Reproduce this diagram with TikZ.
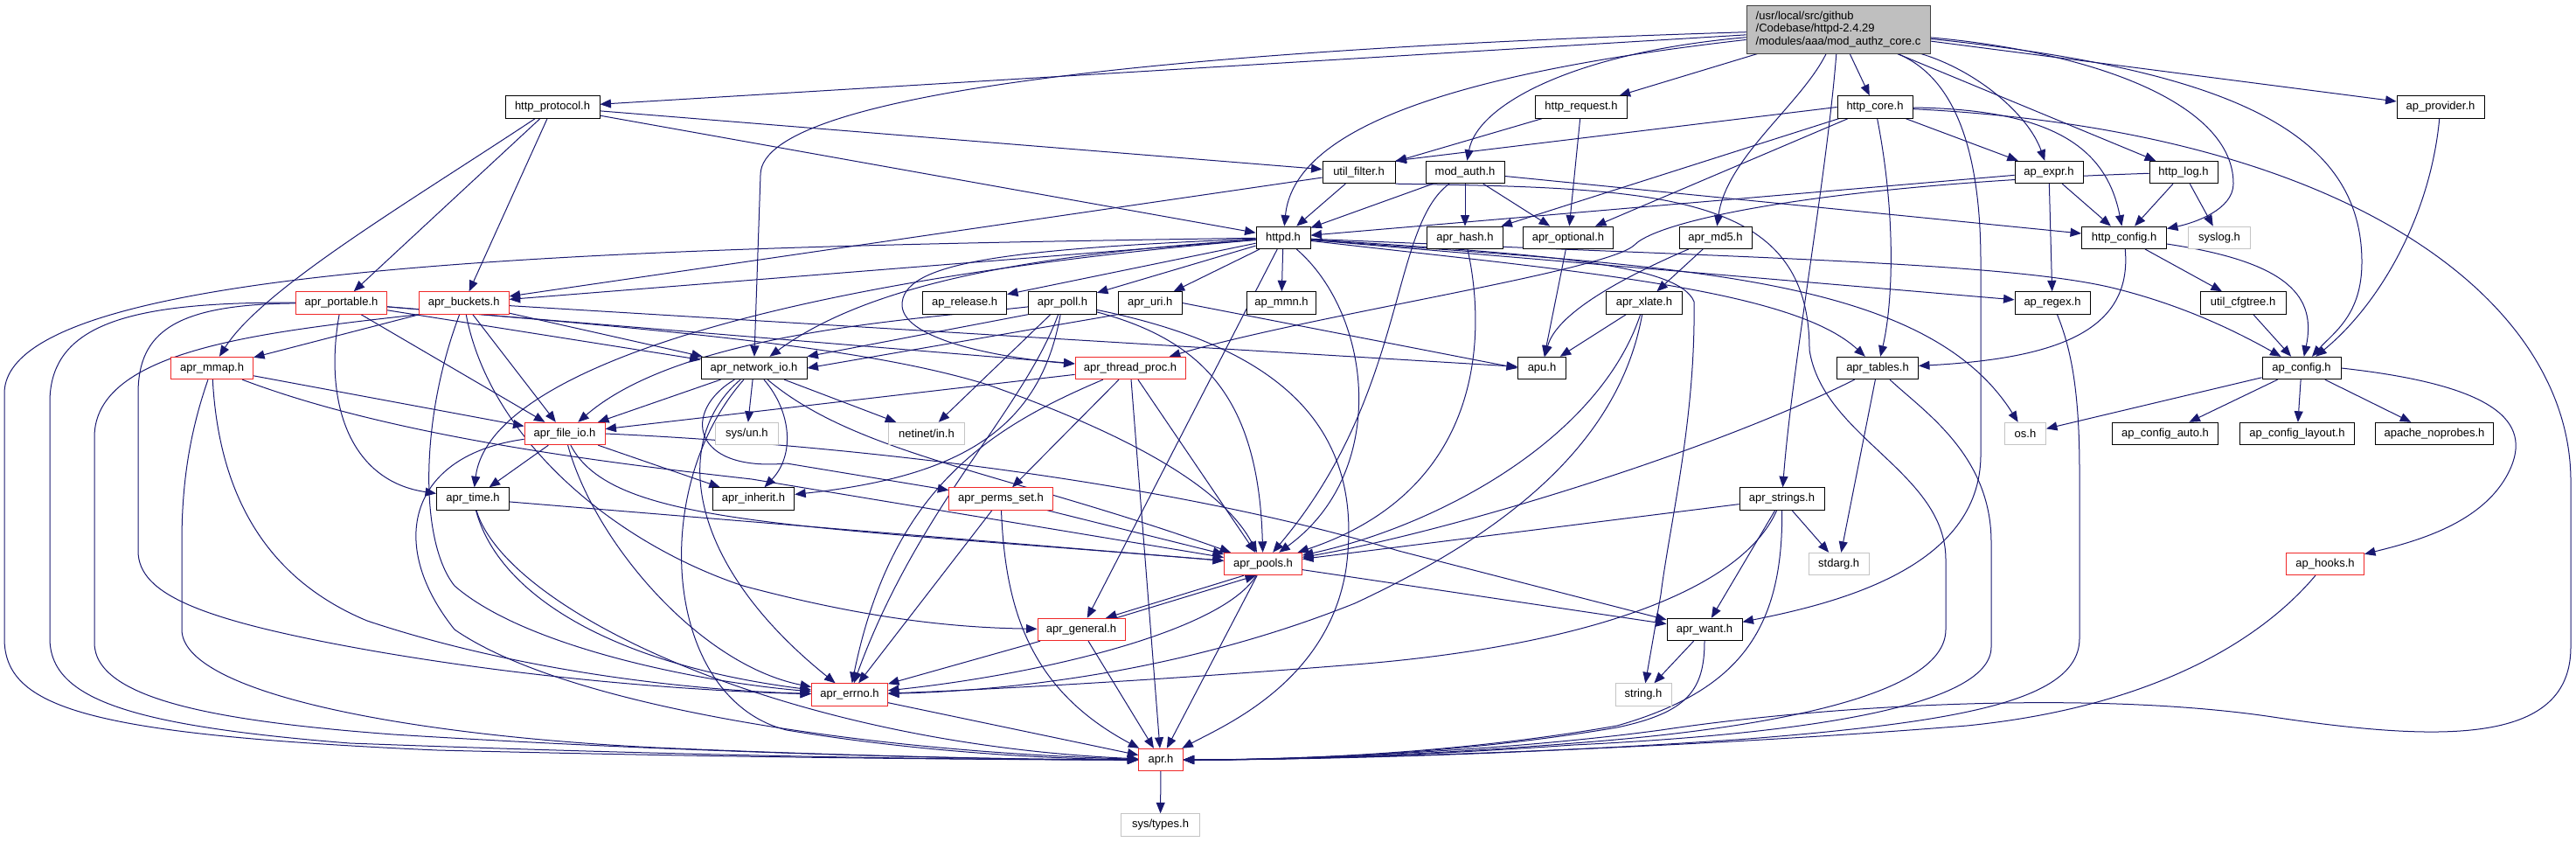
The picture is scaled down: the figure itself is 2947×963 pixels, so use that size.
\documentclass[tikz,border=0pt]{standalone}
\usepackage{fontspec}
\setmainfont{Liberation Sans}
\usetikzlibrary{arrows.meta}
\definecolor{edgec}{HTML}{191970}
\definecolor{nred}{HTML}{F02828}
\definecolor{ngray}{HTML}{C4C4C4}
\definecolor{rootfill}{HTML}{BFBFBF}
\pgfdeclarelayer{bg}
\pgfsetlayers{bg,main}
\tikzset{
  nd/.style={draw=black, line width=0.9pt, fill=white, rectangle, minimum height=25.5pt, inner sep=0pt, font=\fontsize{13}{15}\selectfont, text=black},
  nr/.style={nd, draw=nred},
  ng/.style={nd, draw=ngray},
  rootnode/.style={nd, fill=rootfill, draw=black!75, minimum height=55pt, align=left, font=\fontsize{13}{14.5}\selectfont},
  e/.style={draw=edgec, line width=1pt, -{Triangle[length=12.5pt,width=10pt]}},
}
\begin{document}
\begin{tikzpicture}[x=1pt,y=-1pt]
\useasboundingbox (0,0) rectangle (2947,963);
% nodes
\node[rootnode, minimum width=210pt] (R) at (2103,33.5) {/usr/local/src/github\\/Codebase/httpd-2.4.29\\/modules/aaa/mod\_authz\_core.c};
\node[nd, minimum width=108pt] (HP) at (632,122.5) {http\_protocol.h};
\node[nd, minimum width=105pt] (HR) at (1809,122.5) {http\_request.h};
\node[nd, minimum width=86pt] (HC) at (2145,122.5) {http\_core.h};
\node[nd, minimum width=100pt] (AP) at (2792,122.5) {ap\_provider.h};
\node[nd, minimum width=83pt] (UF) at (1554.5,197) {util\_filter.h};
\node[nd, minimum width=90pt] (MA) at (1676,197) {mod\_auth.h};
\node[nd, minimum width=78pt] (AE) at (2344,197) {ap\_expr.h};
\node[nd, minimum width=78pt] (HL) at (2498,197) {http\_log.h};
\node[nd, minimum width=62pt] (H) at (1468,271.8) {httpd.h};
\node[nd, minimum width=87pt] (AH) at (1676,271.8) {apr\_hash.h};
\node[nd, minimum width=103pt] (AO) at (1794,271.8) {apr\_optional.h};
\node[nd, minimum width=83pt] (MD5) at (1962.5,271.8) {apr\_md5.h};
\node[nd, minimum width=97pt] (HCF) at (2430,271.8) {http\_config.h};
\node[ng, minimum width=71pt] (SYS) at (2539,271.8) {syslog.h};
\node[nr, minimum width=104pt] (PT) at (390.5,346.5) {apr\_portable.h};
\node[nr, minimum width=103pt] (B) at (530.7,346.5) {apr\_buckets.h};
\node[nd, minimum width=96pt] (REL) at (1103.6,346.5) {ap\_release.h};
\node[nd, minimum width=78pt] (P) at (1215.5,346.5) {apr\_poll.h};
\node[nd, minimum width=73pt] (URI) at (1315.7,346.5) {apr\_uri.h};
\node[nd, minimum width=79pt] (MMN) at (1466,346.5) {ap\_mmn.h};
\node[nd, minimum width=87pt] (X) at (1881,346.5) {apr\_xlate.h};
\node[nd, minimum width=86pt] (RX) at (2348,346.5) {ap\_regex.h};
\node[nd, minimum width=98pt] (CFG) at (2566,346.5) {util\_cfgtree.h};
\node[nr, minimum width=94pt] (MM) at (242.6,421) {apr\_mmap.h};
\node[nd, minimum width=121pt] (NIO) at (862.5,421) {apr\_network\_io.h};
\node[nr, minimum width=126pt] (TP) at (1293,421) {apr\_thread\_proc.h};
\node[nd, minimum width=55pt] (APU) at (1764,421) {apu.h};
\node[nd, minimum width=93pt] (TB) at (2148,421) {apr\_tables.h};
\node[nd, minimum width=90pt] (C) at (2633,421) {ap\_config.h};
\node[nr, minimum width=92pt] (FIO) at (646,496) {apr\_file\_io.h};
\node[ng, minimum width=72pt] (SUN) at (854.4,496) {sys/un.h};
\node[ng, minimum width=86.5pt] (NET) at (1060,496) {netinet/in.h};
\node[ng, minimum width=47pt] (OS) at (2317,496) {os.h};
\node[nd, minimum width=121pt] (CAUTO) at (2477,496) {ap\_config\_auto.h};
\node[nd, minimum width=131pt] (CLAY) at (2628,496) {ap\_config\_layout.h};
\node[nd, minimum width=135pt] (NOPR) at (2785,496) {apache\_noprobes.h};
\node[nd, minimum width=83pt] (T) at (541,570.5) {apr\_time.h};
\node[nd, minimum width=93.5pt] (INH) at (862,570.5) {apr\_inherit.h};
\node[nr, minimum width=118.5pt] (PS) at (1145,570.5) {apr\_perms\_set.h};
\node[nd, minimum width=97pt] (S) at (2038.5,570.5) {apr\_strings.h};
\node[nr, minimum width=89pt] (PO) at (1445,645) {apr\_pools.h};
\node[ng, minimum width=68.5pt] (STD) at (2103.7,645) {stdarg.h};
\node[nr, minimum width=89pt] (HK) at (2660,645) {ap\_hooks.h};
\node[nr, minimum width=100pt] (G) at (1237,720) {apr\_general.h};
\node[nd, minimum width=86pt] (W) at (1950,720) {apr\_want.h};
\node[nr, minimum width=87pt] (E) at (972,794.5) {apr\_errno.h};
\node[ng, minimum width=64pt] (STR) at (1880,794.5) {string.h};
\node[nr, minimum width=50.5pt] (A) at (1328,869) {apr.h};
\node[ng, minimum width=90pt] (ST) at (1327.5,943.5) {sys/types.h};

\begin{pgfonlayer}{bg}
% root
\draw[e] (R) -- (HP);
\draw[e] (R) .. controls (1400,55) and (870,100) .. (870,200) -- (NIO);
\draw[e] (R) .. controls (1650,85) and (1480,150) .. (H);
\draw[e] (R) .. controls (1800,60) and (1690,120) .. (MA);
\draw[e] (R) -- (HR);
\draw[e] (R) .. controls (2060,120) and (1975,180) .. (MD5);
\draw[e] (R) .. controls (2090,200) and (2050,420) .. (S);
\draw[e] (R) -- (HC);
\draw[e] (R) .. controls (2240,90) and (2266,180) .. (2266,300) -- (2266,520) .. controls (2266,650) and (2100,690) .. (W);
\draw[e] (R) .. controls (2260,80) and (2320,130) .. (AE);
\draw[e] (R) -- (HL);
\draw[e] (R) .. controls (2400,60) and (2555,120) .. (2555,210) .. controls (2555,240) and (2510,255) .. (HCF);
\draw[e] (R) .. controls (2550,80) and (2702,150) .. (2702,300) .. controls (2702,360) and (2670,380) .. (C);
\draw[e] (R) -- (AP);
% http_protocol
\draw[e] (HP) -- (H);
\draw[e] (HP) -- (UF);
\draw[e] (HP) -- (PT);
\draw[e] (HP) .. controls (470,230) and (300,330) .. (MM);
\draw[e] (HP) -- (B);
% http_request
\draw[e] (HR) -- (UF);
\draw[e] (HR) -- (AO);
% http_core
\draw[e] (HC.west) -- (UF.north east);
\draw[e] (HC) -- (AH);
\draw[e] (HC) -- (AO);
\draw[e] (HC) .. controls (2170,250) and (2165,350) .. (TB);
\draw[e] (HC) -- (AE);
\draw[e] (HC) .. controls (2350,125) and (2410,170) .. (HCF);
\draw[e] (HC) .. controls (2700,150) and (2941,350) .. (2941,550) -- (2941,740) .. controls (2941,850) and (2800,850) .. (2600,820) .. controls (2400,790) and (2100,805) .. (1900,835) .. controls (1700,862) and (1450,869) .. (A);
% ap_provider
\draw[e] (AP) .. controls (2780,250) and (2720,350) .. (C);
% util_filter
\draw[e] (UF) -- (H);
\draw[e] (UF) -- (B);
\draw[e] (UF.south east) .. controls (1900,215) and (2070,220) .. (2070,400) .. controls (2085,500) and (2226,540) .. (2226,640) -- (2226,720) .. controls (2226,800) and (2000,835) .. (1800,850) .. controls (1600,866) and (1450,869) .. (A);
% mod_auth
\draw[e] (MA) -- (H);
\draw[e] (MA) -- (AH);
\draw[e] (MA) -- (AO);
\draw[e] (MA) .. controls (1590,260) and (1610,450) .. (PO);
\draw[e] (MA) -- (HCF);
% ap_expr
\draw[e] (AE) -- (H);
\draw[e] (AE) -- (HCF);
\draw[e] (AE) -- (RX);
% http_log
\draw[e] (HL) -- (HCF);
\draw[e] (HL) -- (SYS);
\draw[e] (HL) .. controls (2100,210) and (1900,250) .. (1870,280) .. controls (1840,310) and (1500,360) .. (TP);
% httpd
\draw[e] (H) .. controls (700,283) and (5,300) .. (5,450) -- (5,730) .. controls (5,810) and (100,840) .. (500,858) .. controls (900,868) and (1200,869) .. (A);
\draw[e] (H) -- (B);
\draw[e] (H) .. controls (1200,290) and (1000,320) .. (NIO);
\draw[e] (H) .. controls (900,320) and (560,420) .. (T);
\draw[e] (H) .. controls (1150,285) and (1030,300) .. (1032,350) .. controls (1035,390) and (1150,410) .. (TP);
\draw[e] (H) -- (REL);
\draw[e] (H) -- (P);
\draw[e] (H) -- (URI);
\draw[e] (H) -- (MMN);
\draw[e] (H) -- (G);
\draw[e] (H) .. controls (1570,360) and (1590,540) .. (PO);
\draw[e] (H) .. controls (1800,310) and (2050,330) .. (TB);
\draw[e] (H) .. controls (1750,290) and (1920,300) .. (1938,345) .. controls (1940,480) and (1910,600) .. (1900,680) -- (STR);
\draw[e] (H) .. controls (1900,305) and (2200,310) .. (OS);
\draw[e] (H) -- (RX);
\draw[e] (H) .. controls (2000,295) and (2300,300) .. (2420,330) .. controls (2500,350) and (2560,380) .. (C);
% hash, optional, md5, xlate, uri
\draw[e] (AH) .. controls (1700,380) and (1700,560) .. (PO);
\draw[e] (AO) -- (APU);
\draw[e] (MD5) .. controls (1850,320) and (1780,360) .. (APU);
\draw[e] (MD5) -- (X);
\draw[e] (X) -- (APU);
\draw[e] (X) .. controls (1830,500) and (1650,600) .. (PO);
\draw[e] (X) .. controls (1850,520) and (1700,620) .. (1550,690) .. controls (1350,770) and (1150,790) .. (E);
\draw[e] (URI.south west) -- (NIO.east);
\draw[e] (URI.east) -- (APU.west);
% http_config, cfgtree, regex
\draw[e] (HCF) .. controls (2440,380) and (2350,410) .. (TB);
\draw[e] (HCF) -- (CFG);
\draw[e] (HCF) .. controls (2620,300) and (2650,340) .. (C);
\draw[e] (CFG) -- (C);
\draw[e] (RX) .. controls (2370,400) and (2379,450) .. (2379,540) -- (2379,730) .. controls (2379,800) and (2250,825) .. (2000,845) .. controls (1700,866) and (1450,869) .. (A);
% ap_config
\draw[e] (C) -- (OS);
\draw[e] (C) -- (CAUTO);
\draw[e] (C) -- (CLAY);
\draw[e] (C) -- (NOPR);
\draw[e] (C.east) .. controls (2850,440) and (2900,480) .. (2870,540) .. controls (2840,600) and (2760,620) .. (HK);
\draw[e] (HK) .. controls (2580,740) and (2450,810) .. (2250,830) .. controls (1900,858) and (1500,869) .. (A);
% apr_portable
\draw[e] (PT) .. controls (150,345) and (57,370) .. (57,460) -- (57,730) .. controls (57,800) and (150,830) .. (400,850) .. controls (800,865) and (1100,869) .. (A);
\draw[e] (PT) .. controls (200,348) and (158,380) .. (158,450) -- (158,630) .. controls (158,680) and (230,710) .. (430,745) .. controls (650,783) and (850,792) .. (E);
\draw[e] (PT) .. controls (370,460) and (400,550) .. (T);
\draw[e] (PT) -- (FIO);
\draw[e] (PT) -- (NIO);
\draw[e] (PT) -- (TP);
\draw[e] (PT) .. controls (800,380) and (1000,400) .. (1130,440) .. controls (1300,500) and (1400,560) .. (PO);
% apr_buckets
\draw[e] (B) -- (APU);
\draw[e] (B) -- (NIO);
\draw[e] (B) -- (FIO);
\draw[e] (B) .. controls (560,500) and (700,620) .. (850,670) .. controls (1000,710) and (1100,718) .. (G);
\draw[e] (B) -- (MM);
\draw[e] (B) .. controls (480,480) and (480,620) .. (520,670) .. controls (600,740) and (800,780) .. (E);
\draw[e] (B.south west) .. controls (300,380) and (108,400) .. (108,500) -- (108,735) .. controls (108,800) and (250,825) .. (450,840) .. controls (800,862) and (1150,869) .. (A);
% apr_mmap
\draw[e] (MM) -- (FIO);
\draw[e] (MM) .. controls (450,500) and (700,530) .. (860,548) -- (PO);
\draw[e] (MM) .. controls (215,500) and (208,560) .. (208,620) -- (208,720) .. controls (208,790) and (450,840) .. (750,855) .. controls (1000,866) and (1200,869) .. (A);
\draw[e] (MM) .. controls (250,560) and (300,660) .. (420,710) .. controls (600,770) and (800,790) .. (E);
% apr_poll
\draw[e] (P.south west) -- (NIO.north east);
\draw[e] (P) -- (NET);
\draw[e] (P) .. controls (1050,365) and (780,380) .. (FIO);
\draw[e] (P) .. controls (1190,490) and (1100,545) .. (INH);
\draw[e] (P) .. controls (1170,470) and (1050,580) .. (E);
\draw[e] (P) .. controls (1380,390) and (1440,460) .. (PO);
\draw[e] (P) .. controls (1480,400) and (1560,500) .. (1540,650) .. controls (1520,780) and (1400,830) .. (A);
% apr_network_io
\draw[e] (NIO) -- (SUN);
\draw[e] (NIO) -- (NET);
\draw[e] (NIO) .. controls (905,470) and (910,520) .. (INH);
\draw[e] (NIO) -- (FIO);
\draw[e] (NIO) .. controls (770,500) and (780,640) .. (E);
\draw[e] (NIO) .. controls (780,470) and (790,540) .. (900,530) -- (PS);
\draw[e] (NIO) .. controls (980,520) and (1150,540) .. (PO);
\draw[e] (NIO) .. controls (740,560) and (760,800) .. (900,835) .. controls (1050,860) and (1200,868) .. (A);
% apr_thread_proc
\draw[e] (TP) -- (FIO);
\draw[e] (TP) -- (PS);
\draw[e] (TP) -- (PO);
\draw[e] (TP) -- (A);
\draw[e] (TP) .. controls (1130,490) and (1020,560) .. (E);
% apr_tables
\draw[e] (TB) .. controls (1950,520) and (1650,610) .. (PO);
\draw[e] (TB) -- (STD);
\draw[e] (TB) .. controls (2200,470) and (2278,520) .. (2278,620) -- (2278,740) .. controls (2278,810) and (2050,840) .. (1800,852) .. controls (1600,866) and (1450,869) .. (A);
% apr_file_io
\draw[e] (FIO) -- (T);
\draw[e] (FIO) -- (INH);
\draw[e] (FIO) .. controls (700,600) and (900,600) .. (PO);
\draw[e] (FIO) .. controls (680,620) and (800,760) .. (E);
\draw[e] (FIO) .. controls (470,520) and (440,620) .. (520,720) .. controls (650,810) and (1000,860) .. (A);
\draw[e] (FIO.east) .. controls (900,505) and (1300,540) .. (1600,630) -- (W);
% apr_time
\draw[e] (T) -- (PO);
\draw[e] (T) .. controls (570,680) and (700,760) .. (E);
\draw[e] (T) .. controls (580,700) and (900,850) .. (A);
% apr_perms_set
\draw[e] (PS) -- (PO);
\draw[e] (PS) -- (E);
\draw[e] (PS) .. controls (1150,700) and (1180,790) .. (A);
% apr_strings
\draw[e] (S) -- (PO);
\draw[e] (S) -- (STD);
\draw[e] (S) -- (W);
\draw[e] (S) .. controls (1990,680) and (1800,740) .. (1550,760) .. controls (1300,780) and (1100,790) .. (E);
\draw[e] (S) .. controls (2040,720) and (1990,790) .. (1850,830) .. controls (1650,865) and (1450,869) .. (A);
% apr_pools / general
\draw[e] ([xshift=-22pt]PO.south) -- ([xshift=28pt]G.north);
\draw[e] ([xshift=40pt]G.north) -- ([xshift=-8pt]PO.south);
\draw[e] (PO) -- (W);
\draw[e] (PO) .. controls (1400,720) and (1200,770) .. (E);
\draw[e] (PO) -- (A);
\draw[e] (G) -- (E);
\draw[e] (G) -- (A);
% apr_want
\draw[e] (W) -- (STR);
\draw[e] (W) .. controls (1950,790) and (1930,815) .. (1850,832) .. controls (1650,866) and (1450,869) .. (A);
% errno, apr
\draw[e] (E) -- (A);
\draw[e] (A) -- (ST);
\end{pgfonlayer}
\end{tikzpicture}
\end{document}
